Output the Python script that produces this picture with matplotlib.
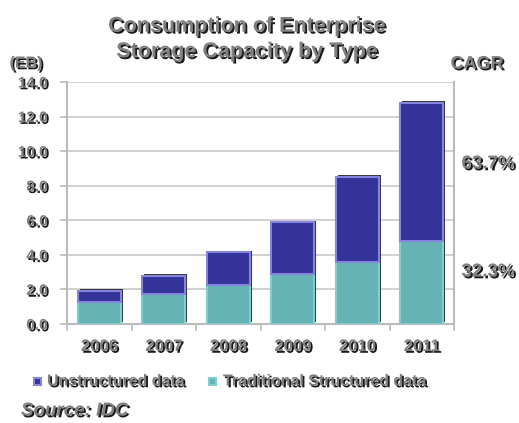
import matplotlib
matplotlib.use("Agg")
import matplotlib.pyplot as plt
import matplotlib.patheffects as pe
import numpy as np

years = ["2006", "2007", "2008", "2009", "2010", "2011"]
structured = [1.3, 1.72, 2.28, 2.9, 3.6, 4.81]
unstructured = [0.6, 1.08, 1.86, 2.98, 4.93, 8.0]
yticks = [0, 2, 4, 6, 8, 10, 12, 14]
cagr_labels = ["63.7%", "32.3%"]

BLUE = "#333399"
BLUE_EDGE = "#8585e0"
TEAL = "#66b3b5"
TEAL_EDGE = "#80cfd0"
TXT = "#808080"

plt.rcParams.update({
    "font.family": ["Liberation Sans", "DejaVu Sans"],
    "font.weight": "bold",
})

shadow = [pe.withSimplePatchShadow(offset=(1.3, -1.3), shadow_rgbFace="#1a1a1a", alpha=1.0)]
bar_shadow = [pe.withSimplePatchShadow(offset=(1.5, 1.2), shadow_rgbFace="#222222", alpha=0.9)]

fig = plt.figure(figsize=(5.19, 4.23), dpi=100)
ax = fig.add_axes([67 / 519, 1 - 324 / 423, (454 - 67) / 519, (324 - 82) / 423])

x = np.arange(len(years))
b1 = ax.bar(x, structured, width=0.67, color=TEAL, edgecolor=TEAL_EDGE, linewidth=1.5, zorder=3)
b2 = ax.bar(x, unstructured, bottom=structured, width=0.67, color=BLUE, edgecolor=BLUE_EDGE,
            linewidth=1.5, zorder=3)
for p in list(b1) + list(b2):
    p.set_path_effects(bar_shadow)

ax.set_xlim(-0.5, len(years) - 0.5)
ax.set_ylim(0, 14)
ax.set_yticks(yticks)
ax.set_yticklabels([f"{v:.1f}" for v in yticks], fontsize=11, color=TXT)
for t in ax.get_yticklabels():
    t.set_path_effects(shadow)
ax.yaxis.grid(True, color="#c8c8c8", linewidth=1.2, zorder=0)
ax.tick_params(axis="y", length=5, color="#bbbbbb", width=1.2, pad=9)

ax.set_xticks(np.arange(-0.5, len(years), 1.0))
ax.set_xticklabels([])
ax.tick_params(axis="x", length=5, color="#bbbbbb", width=1.2)
for i, yr in enumerate(years):
    ax.text(i, -1.3, yr, ha="center", va="center", fontsize=12, color=TXT,
            path_effects=shadow)

for s in ["left", "right", "bottom"]:
    ax.spines[s].set_color("#bbbbbb")
    ax.spines[s].set_linewidth(1.5)
ax.spines["top"].set_visible(False)

fig.text(247 / 519, 1 - 39 / 423, "Consumption of Enterprise\nStorage Capacity by Type",
         ha="center", va="center", fontsize=15.5, color=TXT, linespacing=1.28,
         path_effects=shadow)
fig.text(26 / 519, 1 - 63 / 423, "(EB)", ha="center", va="center", fontsize=11.5,
         color=TXT, path_effects=shadow)
fig.text(477 / 519, 1 - 64 / 423, "CAGR", ha="center", va="center", fontsize=13,
         color=TXT, path_effects=shadow)
fig.text(488 / 519, 1 - 164 / 423, cagr_labels[0], ha="center", va="center",
         fontsize=13.5, color=TXT, path_effects=shadow)
fig.text(488 / 519, 1 - 272 / 423, cagr_labels[1], ha="center", va="center",
         fontsize=13.5, color=TXT, path_effects=shadow)

# legend
fig.patches.append(plt.Rectangle((34 / 519, 1 - 385 / 423), 7 / 519, 7 / 423,
                                 transform=fig.transFigure, facecolor=BLUE,
                                 edgecolor=BLUE_EDGE, linewidth=1.5))
fig.text(47 / 519, 1 - 381 / 423, "Unstructured data", ha="left", va="center",
         fontsize=11.5, color=TXT, path_effects=shadow)
fig.patches.append(plt.Rectangle((209 / 519, 1 - 385 / 423), 7 / 519, 7 / 423,
                                 transform=fig.transFigure, facecolor=TEAL,
                                 edgecolor=TEAL_EDGE, linewidth=1.5))
fig.text(223 / 519, 1 - 381 / 423, "Traditional Structured data", ha="left", va="center",
         fontsize=11.5, color=TXT, path_effects=shadow)

fig.text(21 / 519, 1 - 411 / 423, "Source: IDC", ha="left", va="center", fontsize=13.5,
         style="italic", color=TXT, path_effects=shadow)

fig.savefig("out.png", dpi=100)
